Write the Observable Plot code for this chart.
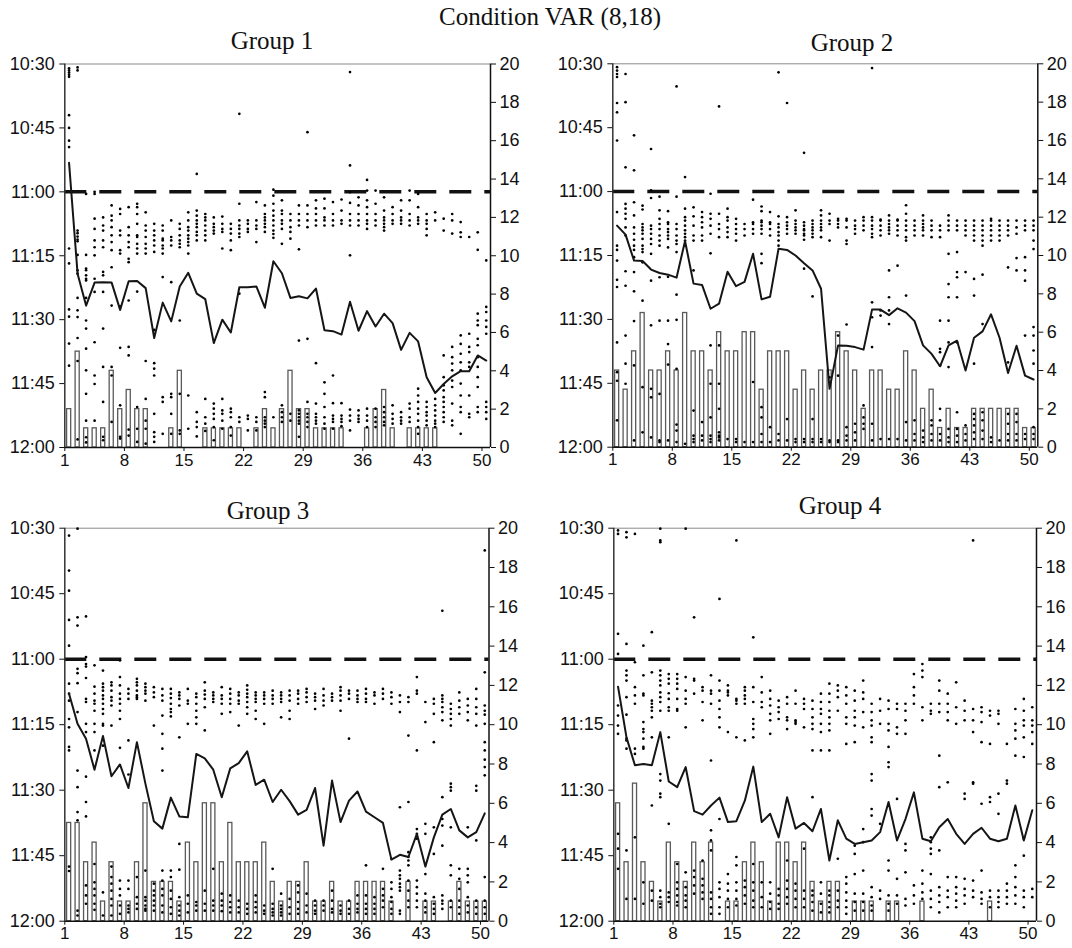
<!DOCTYPE html>
<html><head><meta charset="utf-8">
<script src="https://cdn.jsdelivr.net/npm/d3@7"></script>
<script src="https://cdn.jsdelivr.net/npm/@observablehq/plot@0.6"></script>
<style>
html,body{margin:0;padding:0;background:#fff;}
#chart{position:relative;width:1072px;height:948px;overflow:hidden;background:#fff;}
.ttl{position:absolute;font-family:"Liberation Serif","Times New Roman",serif;font-size:25px;line-height:25px;white-space:nowrap;color:#111;transform:translateX(-50%);z-index:2}
.pnl{position:absolute;z-index:1}
</style></head><body><div id="chart"></div>
<script>
// ---- tick labels / categories ----
const timeTickMinutes = [0, 15, 30, 45, 60, 75, 90]; // minutes after 10:30
const timeTickLabels = ["10:30", "10:45", "11:00", "11:15", "11:30", "11:45", "12:00"];
const countTicks = [0, 2, 4, 6, 8, 10, 12, 14, 16, 18, 20];
const periodTicks = [1, 8, 15, 22, 29, 36, 43, 50];
const deadlineMinute = 30; // 11:00
const groupNames = ["Group 1", "Group 2", "Group 3", "Group 4"];
const chartTitle = "Condition VAR (8,18)";

// ---- average arrival line (minutes after 10:30), periods 1..50 ----
const line1 = [23.2,49.2,56.7,51.3,51.2,51.3,57.7,51.0,50.9,52.6,64.3,56.0,60.4,52.2,49.0,53.9,55.2,65.5,60.0,63.0,52.4,52.4,52.2,57.2,46.3,49.1,54.9,54.5,55.0,52.7,62.5,62.7,63.5,55.8,62.6,58.0,61.6,58.6,60.8,67.1,63.1,65.1,73.5,77.2,75.1,73.3,72.1,72.1,68.4,69.6];
const line2 = [38.0,40.1,46.2,46.3,48.3,49.1,49.5,50.2,41.6,51.6,51.9,57.5,56.3,48.8,52.2,51.2,44.6,55.3,54.7,43.4,43.7,45.0,46.8,48.5,52.8,76.3,66.1,66.2,66.5,67.1,57.7,57.7,59.0,57.4,58.4,60.4,66.1,68.1,71.0,66.1,65.0,72.0,64.3,62.8,58.8,64.3,72.6,66.2,73.2,74.1];
const line3 = [37.9,44.8,48.2,55.3,47.6,56.8,54.1,59.5,49.0,58.5,67.1,68.8,61.7,66.0,66.2,51.7,52.7,55.3,61.6,55.0,53.8,51.1,58.8,57.6,62.7,59.9,62.5,65.6,64.5,59.5,72.7,57.8,67.3,62.4,60.3,64.9,66.2,67.5,75.9,74.8,75.3,70.0,77.5,70.8,65.6,64.3,69.2,70.8,69.6,65.3];
const line4 = [36.3,47.9,54.3,54.0,54.3,46.7,58.0,59.3,54.7,64.8,65.6,63.5,61.7,67.3,67.1,62.4,54.6,67.3,65.4,70.8,61.6,68.8,67.5,69.4,64.3,76.1,66.9,71.1,72.3,71.9,71.5,69.6,62.7,71.5,66.6,60.5,71.1,71.7,68.5,66.6,70.0,72.3,70.0,68.6,71.1,71.7,71.1,63.5,71.5,64.6];

// ---- bar counts (right axis), periods 1..50 ----
const bars1 = [2,5,1,1,1,4,2,3,2,2, 0,0,1,4,0,0,1,1,1,1, 1,0,1,2,1,2,4,2,2,1, 1,1,1,0,0,1,2,3,1,0, 1,1,1,1,0,0,0,0,0,0];
const bars2 = [4,3,5,7,4,4,5,4,7,5, 5,4,6,5,5,6,6,3,5,5, 5,3,4,3,4,4,6,5,4,2, 4,4,3,3,5,4,2,3,1,2, 1,1,2,2,2,2,2,2,1,1];
const bars3 = [5,5,3,4,1,3,1,1,3,6, 2,2,2,1,4,3,6,6,3,5, 3,3,3,4,2,1,2,2,3,1, 1,2,1,1,2,2,2,2,1,0, 2,0,1,1,0,1,2,1,1,1];
const bars4 = [6,3,7,3,2,1,4,3,2,4, 3,4,0,1,1,3,4,3,1,4, 4,3,4,2,1,2,2,0,1,1, 1,0,1,1,0,0,1,0,0,0, 0,0,0,0,1,0,0,0,0,0];

// ---- individual arrivals (minutes after 10:30), one string per period ----
const dots1 = [
"1 1.5 2 2.5 3 12 15 18 19.5 43.3 46.8 57.6 59.3 65.6 70.8",
"0.8 1.5 39.1 39.7 40.5 41.2 41.6 44.8 48.4 49.2 54.9 57.8 59.4 64.3 69.7 88.1",
"30.5 44.8 48 48.4 49.6 50.4 50.8 54.9 60.2 62.1 66.8 71.9 77.4 83.7 87.6 88.8",
"30 30.5 36.3 38.7 41.4 43 44.9 50.4 53.5 65.3 73.1 75.1 83.7",
"36 37.9 39.1 41.4 43 48.8 49.6 53.5 62.1 71.1 79.3 87.5 88.3",
"33.2 35.6 36.7 38.3 40.2 41.8 43.7 47.7 56.7 71.1 73.1 84",
"34 35.2 39.1 40.2 43.7 44.5 56.9 66.6 80.1 87.5 87.9",
"33.6 38.3 40.2 41.8 43 45.7 46.5 55.5 66.4 68.4 85.8 87.2",
"32.8 33.6 35.2 37.5 40.2 40.6 42.2 43.3 44.5 53.4 80.5 85.6 88.7",
"34.8 37.9 39.1 40.6 42.2 43.3 44.5 69.7 78.6 83.7 85.6 89.1",
"37.5 39.1 40.2 41.4 42.6 44.1 62.4 70.2 71.5 73.1 82.1 86.4 87.5 88.7",
"37.9 39.1 41 41.4 42.6 43.3 44.5 50 78.2 79.3 86.8",
"36.7 40.6 41.4 42.6 51.2 77.4 78.2 82.1 86.8",
"37.5 38.7 40.2 41.4 42.2 43 60.2 77.4 86 86.8",
"34.8 36.7 38.3 39.1 40.2 41 41.8 42.6 44.5 77.8 85.6",
"25.8 34.4 35.6 36.7 37.5 38.3 39.4 40.2 41.4 81.7 84 85.2 87.4",
"35.2 36 36.7 37.9 39.1 40.2 41.4 78.6 82.9 84.4 86.1",
"36 37.5 38.3 39.1 39.8 79.7 80.9 82.1 83.3 85.2 88.3",
"35.8 37.5 38.7 39.4 43.3 78.6 81.3 82.1 83.7 85.6",
"37.5 38.7 39.8 41.4 43.7 80.9 81.7 82.9 85.2 87.2",
"11.7 32.8 36.7 37.9 38.7 39.8 40.6 53.9 82.9 84",
"36.7 37.5 38.7 39.4 82.5 83.3 86",
"32.4 36.7 37.9 38.7 41.8 82.9 84 86",
"33.2 35.2 36 36.7 37.5 38.3 39.4 77 78.2 82.9 83.7 84.4 85.2",
"29.5 30.9 32.8 34.4 35.6 36.7 37.9 39.1 39.9 40.8 82.9",
"32 34.4 35.2 36.7 37.5 38.7 42.2 80.1 81.7 82.9 84",
"35.2 36.7 38.3 39.4 41 82.1 83.7",
"33.2 35.2 36.7 37.9 43.5 64.9 81.3 82.1 82.9 83.7 84.4 87.5",
"16 33.2 35.2 36.7 38.3 64.5 79.3 82.1 82.9 84 85.2",
"32 33.9 35.2 36.7 37.9 70.2 79.7 82.1 82.9 83.7 84.4",
"31.6 33.9 36 36.7 37.9 74.7 77.4 80.5 82.9 84.4 85.6",
"32.4 35.2 36.7 37.9 73.1 79.6 82.5 83.3 84 85.6",
"31.8 34.4 36.7 37.5 79.6 82.5 83.3 84 85",
"1.9 23.8 30.1 32.6 35.2 36.7 37.9 44.9 81.1 82.5 83.7 86",
"31.3 33.2 35.2 36.7 37.9 81.3 82.5 83.3 84",
"27.2 29.7 32 33.6 35.2 36.7 37.5 38.7 80.9 82.5 83.7 85.2",
"29.7 32.8 35.2 36.7 37.9 80.9 82.9 84 85.2",
"31.3 34.4 36 36.7 37.5 38.3 39.1 80.5 81.7 82.9 84 84.8",
"33.6 35.2 36.7 37.5 80.1 82.1 83.3 84.4",
"32 34.4 36 36.7 37.5 81.7 82.9 83.7 84.4",
"29.7 32 35.2 36.7 37.9 79.7 80.9 82.9 84",
"30.5 33.6 36 36.7 37.5 76.2 77.8 79.3 80.9 82.1 83.7 85.2 86.8",
"35.2 36.7 37.5 38.7 40.2 79.3 80.5 81.7 82.5 83.7 84.8",
"34.8 36.7 78.6 80.1 81.3 82.5 83.7 84.4 85.2",
"36.3 39.1 68.4 73.5 75.4 76.6 78.2 79.3 80.5 81.7 82.9 84",
"35.2 36.7 39.8 66.4 68.8 70.3 71.9 74.3 75.8 79.7 83.7 84.8",
"37.1 39.5 40.6 63.7 65.7 68 70 71.9 75 77.8 80.5 81.7 86.8",
"40.6 63.3 66.4 67.6 70 71.1 77.8 82.1 82.9",
"39.5 43.6 58.6 60.2 61.3 64.5 66 68.8 71.1 73.5 75.8 80.5 81.7",
"46.1 57 58.2 60.2 61.7 63.3 79.3 80.5 81.7 83.3"
];
const dots2 = [
"0.8 1.6 2.4 3.1 9.2 11.4 18 34.8 42.7 43.7 46.2 50.7 52.4 65.4 72.4 74.4 83.7",
"2.4 9 24.3 32.9 34 35.2 36.4 38.4 40.3 48.7 52.1 63.8 70.4 75.1",
"16.8 25 32.5 35.6 38.4 39.9 41.3 42.7 43.7 45.4 48.9 53.4 60.4 70.8 88.4",
"33.3 34.2 37.6 38.4 39.1 39.9 41.1 42.7 43.5 44.2 46.6 55.6 75.9 86.5",
"20 29.7 31.5 38 38.8 39.9 41.1 42.3 44.6 50.9 61.4 76.3 78.3 87.7",
"31.2 34.4 36.4 37.6 38.8 40.3 41.5 42.7 50.1 60.3 77.5 88.4 88.8",
"34.6 37.2 37.6 38.8 39.5 40.3 41.1 43.1 50 60.3 65.8 70.6 88.4",
"5.3 31.2 37.6 38.8 40.3 41.5 42.3 44.2 54.2 60.1 71.6 84.7 86.1 88.8",
"26.6 34 36 36.8 38 39.1 39.9 40.7 41.5 42.7 89.2",
"33.7 35.8 38 40.3 41.5 48.5 81.4 87.3 88.1 88.8",
"34.8 36 37.2 38.4 40.3 41.5 84.1 87.3 88.4",
"30.5 35.2 36.4 38 39.9 44.5 66.1 75.1 83 87.3 88.1 88.8",
"10 35.2 37.6 38.8 40.7 66.1 75.1 81 86.5 87.3 87.7 88.4",
"34 36 36.8 38.4 39.5 40.7 88.1",
"36.4 37.6 38.8 39.9 41.5 88.1 88.8",
"37.6 38.8 40.3 88.8",
"31.9 37.2 37.6 38.8 39.9 74.7 88.8",
"33.5 34.6 36.8 37.2 38 38.8 39.9 44.6 46.8 80.6 83 86.9 88.8",
"34.8 37.2 37.6 38.8 40.3 85.3 88.8",
"2 35.8 37.6 38.4 39.5 40.3 41.5 42.7 86.9 88.4",
"9.2 36 37.2 38 38.8 39.9 83.4 88.4",
"34.4 36.8 37.6 38.4 39.1 39.9 88.1 88.8",
"20.9 37.2 38 38.8 39.1 39.9 40.3 41.3 48.1 88.1 88.8",
"36.8 37.6 38.4 39.1 39.9 40.7 54.6 83.4 88.1 88.8",
"34.4 35.6 36.8 37.6 38.4 39.1 40.7 88.1 88.8",
"35.2 36.8 37.6 41.5 73.6 88.4 88.8",
"36.4 36.8 37.6 38.4 63.8 73.2 88.4 88.8",
"36.4 36.8 38.4 41.5 42.3 61.2 85.3 87.3 88.4",
"36.8 38 38.8 39.9 84.5 86.5 88.4",
"36 36.8 38 39.1 80.2 83 84.5 85.7",
"1 36 36.8 38 38.8 39.9 40.7 56 59.5 66.5 84.5 88.4",
"36.6 36.8 38 39.1 40.3 57.9 59.1 88.1",
"35.6 36.8 37.6 38.4 39.1 39.9 48.5 54.8 57.9 61.1 88.1",
"36.6 36.8 38 39.1 40.3 47.4 88.1",
"33.2 35.2 36.8 38 39.1 40.7 41.5 54.4 84.1 88.4",
"36.8 38 39.1 40.3 83.7 86.9 88.4",
"35.6 36.8 37.6 38.4 39.1 40.3 86.1 87.7 88.8",
"36.8 38 39.1 40.7 83.7 84.9 86.9 88.4",
"38 39.1 40.7 60.3 66.9 67.7 70.8 81 83.7 86.9 88.4",
"35.6 36.8 38 39.1 44.6 51.7 54.8 60.3 65.4 71.2 85.7 87.7 88.8",
"36.8 38 39.1 44.2 48.9 50.1 54.8 65.4 81.8 85.7 87.3 88.8",
"36.8 38 39.1 40.3 48.9 84.9 86.9 88.4",
"36.8 38 39.1 40.3 41.5 50.5 54.4 70.4 82.2 83.4 84.9 86.5 88.1",
"36.8 38 39.1 40.3 41.5 42.7 49.5 61.1 81.8 83.7 86.1 88.1",
"36.4 36.8 38 39.1 40.3 41.5 87.7 88.8",
"36.8 38 39.1 40.3 41.5 88.4",
"36.8 38 39.1 40.3 47.8 70.1 82.2 84.5 86.9 88.4",
"36.8 38.4 39.9 45.6 48.5 82.2 84.1 86.9 88.4",
"36.8 38 39.1 45.4 48.5 50.9 63.8 86.9 88.1",
"36.8 38 39.1 41.5 43.5 61.8 63.8 67.3 70.4 85.3 86.9 88.1"
];
const dots3 = [
"1.7 9.7 14.3 21 26.9 35.6 37.9 39.5 43.7 45.6 50.1 50.9 77.5 78.5",
"0.1 20.4 22.3 32.2 33.2 35.5 42.1 55.5 59.3 65 66.9 87.6 88.7",
"20.2 29.5 31.1 31.7 34.3 39.1 39.8 44.8 46.7 56.9 62.7 66 81.8 84.1 86",
"31.4 36.3 37.9 39.5 40.2 41.8 44.8 46.7 50.9 76.9 81.1 82.6 84.1 86 87.4",
"32.6 35.6 36.4 37.2 38.3 39.1 40.2 41.4 42.5 44.8 45.2 49.8 83.4 88.7",
"35.3 36 37.2 38.7 39.5 40.6 45.2 77.5 79.9 81.4 83 84.9 86.4 88.7",
"30.3 34.1 36 37.9 39.1 40.2 41.8 43.7 50.3 80.7 82.6 84.1 86.4 88.3",
"36.8 37.9 39.1 48.6 56.4 80.7 82.6 86.4 87.2 88",
"34.5 35.3 36 37.2 38.3 38.7 39.1 79.9 84.5 86 87.2",
"35.6 36.4 37.2 37.9 39.5 78.4 84.5 85.3 86.4 87.2 87.6",
"36.4 37.6 38.7 45.2 81.4 83 84.1 85.3 86.4 87.6",
"36.8 38.3 39.5 42.9 47.1 50.5 55.5 78.4 80.7 82.6 84.1 86.4 88",
"36.8 37.9 38.9 40.2 41.4 42.1 43.1 78.4 79.9 83 84.9 86.8 88.3",
"37.6 38.3 39.1 40.6 47.9 72.3 78.2 84.5 86.4 87.6 88.7",
"36.8 39.5 40.2 44.8 84.1 86 88",
"37.9 38.7 40.2 41.8 43.3 44.8 85.6 86.4 87.6",
"35.3 37.2 38.1 39.1 41 46.3 83 86 87.6",
"37.6 38.3 39.1 39.8 78 85.3 86.4 87.6",
"36.4 38.3 39.1 40.2 42.5 83.7 85.3 86.4 87.7",
"36.8 37.9 39.1 40.2 42.1 84.1 85.6 86.8 88",
"37.6 38.3 39.5 40.2 45.2 85.3 86.8 88",
"36 37 37.9 38.7 39.8 41 42.5 86 87.2 88.3",
"37.6 38.3 39.1 39.8 41.8 43.7 84.1 85.6 86.8 88",
"37.6 38.3 39.1 40.2 44.8 86.4 87.6 88.3",
"37.2 38.3 39.1 40.2 78 86 87.2 88 88.7",
"37.6 38.3 39.1 39.8 43.3 83.7 86.4 87.2 88 88.7",
"37.2 38.3 39.5 41.8 43.7 84.9 86.8 88.3",
"37.2 37.9 39.1 40.2 81.8 83.4 85.6 87.2 88.3",
"36.8 37.6 38.7 39.8 83.7 86.4 88",
"37.9 38.7 39.5 41.4 85.3 86.4 87.6 88.3",
"36.8 38.3 39.5 40.6 85.3 86.4 87.6",
"37.9 38.7 39.5 83 85.3 87.2 88",
"36.4 37.2 38.3 39.5 41.8 86.4 87.6 88.3",
"37.2 37.9 39.1 48.2 85.3 87.2 88.3",
"37.2 38.3 39.1 39.8 84.1 86 87.2 88",
"36.8 37.9 39.1 39.8 77.2 84.1 86 87.2 88.3",
"37.6 38.3 40.2 84.5 86 87.2 88.3",
"36.8 37.9 39.1 78 82.6 84.1 85.3 86.8",
"37.6 38.7 40.2 75.7 81.1 82.6 84.5 85.6 87.2 88.3",
"38.3 39.8 42.1 63.9 78.4 79.5 80.3 81.4 82.2 83 87.6 88.3",
"38.7 39.8 47.5 62.7 74.2 75.3 76.1 77.2 80.7 83 85.3 86.8",
"34.1 37.2 37.9 50.9 68.9 70 71.1 80.7 82.2 83.7 85.3 86.8",
"39.8 44.4 67.7 70 79.2 83.7 85.3 86.8 88",
"39.1 40.2 42.5 49 68.5 74.6 84.5 86 87.2 88.3",
"18.9 38.3 39.1 39.8 41 42.1 44 61.6 66.6 68.1 72.7 84.1 85.3 86 87.2",
"40.2 41.4 42.5 43.7 45.2 58.5 59.3 60.1 68.5 77.2 79.5 85.3 86.8",
"37.6 39.5 41 42.5 78 80.3 82.6 85.3 86.8 88.3",
"39.1 40.6 42.1 44 68.5 78 79.5 81.1 84.5 86.4 88",
"36.8 39.1 41 42.5 45.2 59 60.1 71.5 85.3 86.8 88.3",
"5.1 33 40.6 41.8 42.7 44.8 49 50.9 53 54.7 56.6 79.9 85.3 86.8 88.3"
];
const dots4 = [
"0.5 1.3 24.2 28.8 40.6 42.9 45.2 47.1 70 73.4 78",
"0.9 2.1 26.5 32.6 33.7 34.9 38.7 42.7 48.2 48.6 50.5 73.8 84.9",
"1.3 30.7 36.4 38.3 40.2 50.5 51.7 70.8 84.9",
"26.9 33.7 37.9 38.3 44.4 46 46.7 48.2 50.1 50.5 81.1 86",
"23.8 33 39.5 40.2 41 41.8 43.3 47.9 63.5 83 85.3",
"0.1 2.8 3.2 32.6 33.7 34.9 36 37.6 38.7 39.8 41.8 56.3 57.8 60.8 61.6 83 84.5 86 86.8",
"33.4 34.5 35.6 37.8 39.1 41 41.8 47.9 67.7 83.4 84.5 85.6",
"33.4 34.5 35.6 36.8 39.1 41.4 41.8 76.9 81.1 82.6 84.1 85.6 86.4",
"0.1 34.1 37.2 39.1 40.2 45.6 78.8 82.2 84.1 85.3 86.8",
"20.4 34.5 34.9 37.9 78.4 79.9 81.8 83.7",
"36.4 37.2 39.8 44 76.1 80.3 81.8 83.4 84.9",
"33.7 37.2 37.9 40.2 53.2 69.2 71.5 73.8 83.4 84.9 86.8 88.3",
"16.2 34.9 37.2 39.5 41.4 43.3 45.6 66.6 81.1 82.6 84.5 86.8 88.3",
"36 37.2 37.6 38.3 46.7 79.2 81.4 83 84.9 86.8",
"2.8 39.1 39.5 40.2 47.9 75.3 77.2 81.1 83 84.9 86.4",
"36.4 37.2 38.3 39.1 40.2 48.6 80.7 82.2 84.1 86",
"25 36.4 39.8 43.7 44.8 46 47.9 76.9 81.1 83 85.3 86.8",
"34.1 37.6 39.8 41 81.1 84.5 86.8",
"37.2 39.1 40.6 42.5 44 47.1 81.1 83.7 85.6 87.2",
"39.5 41 42.1 43.7 82.6 84.1 86 87.2",
"38.7 40.2 43.3 44 46 76.1 80.7 82.6 84.5 86",
"37.2 40.2 44 44.4 44.8 81.4 83 84.9 86.8",
"39.1 40.2 41.4 45.6 73.4 83 84.9 86.8",
"39.5 41.4 43.3 44.8 46 50.9 61.6 83 84.1 85.6 87.6",
"37.9 39.8 41.4 42.5 44.8 46.7 50.9 81.1 83.7 86 88",
"35.6 37.9 39.8 41.8 43.3 44.8 46.3 50.9 83 84.1 85.6 86.8 88",
"36 37.2 38.7 41.8 75.7 83 85.3 86.8",
"36.4 38.3 40.2 43.3 44.8 49.4 79.9 81.4 83.4 85.3 86.8 88.3",
"37.2 39.5 41.8 43.3 45.2 49 72.7 74.6 79.2 83.7 85.6 87.6",
"34.9 37.6 39.1 42.1 45.6 68.9 71.9 78.4 83.7 85.6 87.6",
"40.2 42.1 44 45.2 47.9 49 56.3 57.8 64.3 65.8 82.2 84.5 86.4 87.6",
"39.1 41.8 44.8 67.7 83 84.9",
"39.5 41.4 44.8 46.3 50.1 53.6 54.7 76.1 78.4 84.1 86 87.6",
"40.2 41.4 45.6 47.1 62 80.3 84.1 86",
"40.2 41.8 44 47.1 72.3 73.8 78.8 84.9 86.4",
"33.4 36.4 38.3 40.2 81.8 84.1 86",
"31.1 32.6 34.1 41 44 78.4 81.4 83.4 84.9",
"40.2 41.8 42.5 70.8 71.9 73.4 74.6 79.2 83 84.9 86.8",
"34.9 37.2 40.2 42.1 52.1 59.3 73.8 82.2 84.1 85.6 88",
"37.9 40.2 42.1 44 58.2 79.9 83 84.5 86.8",
"35.3 41 44.8 79.9 82.2 83.7 85.3 86.8",
"39.5 41.8 44 60.8 62 80.3 82.6 84.1 86",
"2.8 41.4 44 46.7 58.2 58.5 80.7 83 84.5",
"41 42.1 44.4 49 63.1 78.4 83.4 84.9 86",
"41.8 42.9 49.4 61.6 62.7 83 84.5 86.8",
"41.8 42.5 44.8 60.8 65.4 83 84.5 85.6 86.8",
"49.4 57.8 58.5 81.4 83 84.5 86",
"41.4 44.8 46.3 48.2 52.1 77.2 79.9 82.2 84.1 86",
"39.1 41.8 44 45.2 47.9 52.4 71.1 75 83 84.5 86.8",
"41 44 45.2 46.7 49.4 82.6 84.5"
];

// ---- build ----
const countToMinute = c => 90 - c * 4.5; // right axis (0..20) shares the 0..90 minute frame
const chart = document.getElementById("chart");

function addText(txt, cx, baseline) {
  const d = document.createElement("div");
  d.className = "ttl";
  d.textContent = txt;
  d.style.left = cx + "px";
  d.style.top = (baseline - 21) + "px";
  chart.appendChild(d);
}

function panel(cfg) {
  const {line, bars, dots, left, top, width, height, mL, mR, mT, mB} = cfg;
  const barData = bars.map((c, i) => ({p: i + 1, c})).filter(d => d.c > 0);
  const lineData = line.map((m, i) => ({p: i + 1, m}));
  const dotData = dots.flatMap((s, i) => s.trim().split(/\s+/).map(v => ({p: i + 1, m: +v})));
  const svg = Plot.plot({
    width, height,
    marginLeft: mL, marginRight: mR, marginTop: mT, marginBottom: mB,
    style: {fontFamily: "'Liberation Sans', Arial, sans-serif", fontSize: "18px", color: "#111", background: "transparent", overflow: "visible"},
    x: {domain: [1, 51]},
    y: {domain: [0, 90], reverse: true},
    marks: [
      Plot.ruleY([0], {stroke: "#8a8a8a", strokeWidth: 1}),
      Plot.rect(barData, {x1: d => d.p + 0.27, x2: d => d.p + 0.75, y1: d => countToMinute(0), y2: d => countToMinute(d.c), fill: "white", stroke: "#5a5a5a", strokeWidth: 1.3}),
      Plot.ruleY([deadlineMinute], {stroke: "#111", strokeWidth: 3.5, strokeDasharray: "22,13"}),
      Plot.dot(dotData, {x: d => d.p + 0.5, y: "m", r: 1.35, fill: "#000"}),
      Plot.line(lineData, {x: d => d.p + 0.5, y: "m", stroke: "#151515", strokeWidth: 2}),
      Plot.ruleX([1], {stroke: "#333", strokeWidth: 1.5}),
      Plot.ruleX([51], {stroke: "#111", strokeWidth: 1.5}),
      Plot.ruleY([90], {stroke: "#111", strokeWidth: 1.5}),
      Plot.axisY({anchor: "left", ticks: timeTickMinutes, tickFormat: m => timeTickLabels[timeTickMinutes.indexOf(m)], tickSize: 5, tickPadding: 5, label: null, fontSize: 18}),
      Plot.axisY({anchor: "right", ticks: countTicks.map(countToMinute), tickFormat: m => String(Math.round((90 - m) / 4.5)), tickSize: 5, tickPadding: 4, label: null, fontSize: 18}),
      Plot.axisX({ticks: periodTicks, tickFormat: d => String(d), tickSize: 4, tickPadding: 2, label: null, fontSize: 17})
    ]
  });
  svg.classList.add("pnl");
  svg.style.left = left + "px";
  svg.style.top = top + "px";
  chart.appendChild(svg);
}

panel({line: line1, bars: bars1, dots: dots1, left: 0, top: 50, width: 540, height: 425, mL: 64.3, mR: 50, mT: 13.5, mB: 28});
panel({line: line2, bars: bars2, dots: dots2, left: 536, top: 50, width: 536, height: 425, mL: 76.3, mR: 34.7, mT: 13.3, mB: 28.3});
panel({line: line3, bars: bars3, dots: dots3, left: 0, top: 515, width: 540, height: 433, mL: 64.3, mR: 51.5, mT: 12.7, mB: 27.3});
panel({line: line4, bars: bars4, dots: dots4, left: 536, top: 515, width: 536, height: 433, mL: 77.3, mR: 36, mT: 12.7, mB: 27.3});

addText(chartTitle, 550, 25);
addText(groupNames[0], 272, 49);
addText(groupNames[1], 852, 51);
addText(groupNames[2], 268, 519);
addText(groupNames[3], 840, 514);
</script></body></html>
